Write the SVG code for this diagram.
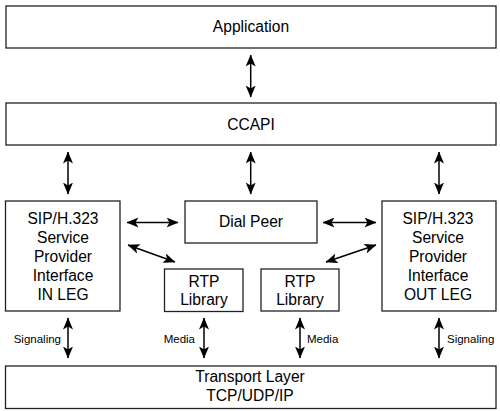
<svg xmlns="http://www.w3.org/2000/svg" width="500" height="411" viewBox="0 0 500 411">
<defs>
<marker id="ah" viewBox="0 0 12 10" markerWidth="12" markerHeight="10" refX="11.5" refY="5" orient="auto-start-reverse" markerUnits="userSpaceOnUse">
<path d="M0,0 L12,5 L0,10 L3,5 Z" fill="#000"/>
</marker>
<style>
.box{fill:#fff;stroke:#222;stroke-width:1.3}
.t{font-family:"Liberation Sans",Arial,sans-serif;font-size:15.6px;fill:#000;text-anchor:middle}
.s{font-family:"Liberation Sans",Arial,sans-serif;font-size:11.5px;fill:#000}
.a{stroke:#000;stroke-width:1.5;fill:none;marker-start:url(#ah);marker-end:url(#ah)}
</style>
</defs>
<rect width="500" height="411" fill="#fff"/>
<g id="application">
<rect class="box" x="6" y="6" width="490" height="42"/>
<text class="t" x="251" y="32">Application</text>
</g>
<g id="ccapi">
<rect class="box" x="6" y="103" width="490" height="42"/>
<text class="t" x="251" y="130">CCAPI</text>
</g>
<g id="sip-in">
<rect class="box" x="5.5" y="201" width="114.5" height="110"/>
<text class="t" x="63" y="224">SIP/H.323</text>
<text class="t" x="63" y="243">Service</text>
<text class="t" x="63" y="262">Provider</text>
<text class="t" x="63" y="281">Interface</text>
<text class="t" x="63" y="300">IN LEG</text>
</g>
<g id="dial-peer">
<rect class="box" x="185" y="201" width="132" height="42"/>
<text class="t" x="251" y="227">Dial Peer</text>
</g>
<g id="sip-out">
<rect class="box" x="382" y="201" width="114" height="110"/>
<text class="t" x="438" y="224">SIP/H.323</text>
<text class="t" x="438" y="243">Service</text>
<text class="t" x="438" y="262">Provider</text>
<text class="t" x="438" y="281">Interface</text>
<text class="t" x="438" y="300">OUT LEG</text>
</g>
<g id="rtp-left">
<rect class="box" x="164.5" y="269" width="78.5" height="42.5"/>
<text class="t" x="204" y="287">RTP</text>
<text class="t" x="204" y="305">Library</text>
</g>
<g id="rtp-right">
<rect class="box" x="261" y="269" width="78" height="42"/>
<text class="t" x="300" y="287">RTP</text>
<text class="t" x="300" y="305">Library</text>
</g>
<g id="transport">
<rect class="box" x="5.5" y="366" width="490.5" height="42.5"/>
<text class="t" x="250" y="382">Transport Layer</text>
<text class="t" x="250" y="401">TCP/UDP/IP</text>
</g>
<g id="connectors">
<line class="a" x1="250.7" y1="55" x2="250.7" y2="97"/>
<line class="a" x1="68" y1="152" x2="68" y2="194"/>
<line class="a" x1="250.7" y1="152" x2="250.7" y2="194"/>
<line class="a" x1="439" y1="152" x2="439" y2="194"/>
<line class="a" x1="127" y1="222.5" x2="178" y2="222.5"/>
<line class="a" x1="323" y1="222.5" x2="376" y2="222.5"/>
<line class="a" x1="128" y1="245" x2="175" y2="262"/>
<line class="a" x1="326" y1="262" x2="376" y2="245"/>
<line class="a" x1="68" y1="318" x2="68" y2="358"/>
<line class="a" x1="204" y1="318" x2="204" y2="358"/>
<line class="a" x1="300" y1="318" x2="300" y2="358"/>
<line class="a" x1="439" y1="318" x2="439" y2="358"/>
<text class="s" x="61" y="343" text-anchor="end">Signaling</text>
<text class="s" x="195" y="343" text-anchor="end">Media</text>
<text class="s" x="307" y="343">Media</text>
<text class="s" x="447" y="343">Signaling</text>
</g>
</svg>
